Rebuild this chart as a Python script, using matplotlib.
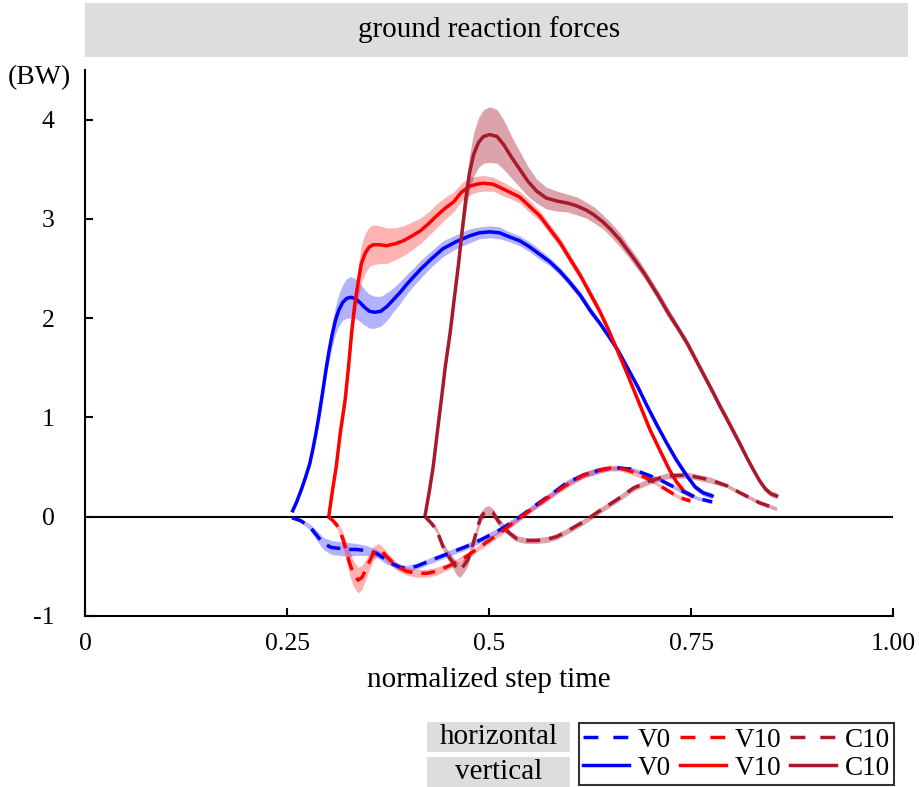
import numpy as np
import matplotlib
matplotlib.use("Agg")
import matplotlib.pyplot as plt
from matplotlib.lines import Line2D

plt.rcParams['font.family'] = ['Liberation Serif', 'DejaVu Serif']
plt.rcParams['axes.unicode_minus'] = False

# ---- data (x = normalized step time, y = BW) ----
# vertical GRF, V0
v0_vert_t = [0.257, 0.262, 0.268, 0.273, 0.278, 0.282, 0.286, 0.290, 0.294, 0.298,
             0.302, 0.306, 0.310, 0.314, 0.319, 0.324, 0.329, 0.334, 0.340, 0.346,
             0.352, 0.359, 0.366, 0.374, 0.382, 0.390, 0.398, 0.407, 0.415, 0.429,
             0.443, 0.459, 0.476, 0.488, 0.501, 0.513, 0.525, 0.538, 0.550, 0.560,
             0.575, 0.588, 0.600, 0.613, 0.625, 0.637, 0.648, 0.660, 0.672, 0.684,
             0.696, 0.708, 0.720, 0.732, 0.745, 0.755, 0.765, 0.776]
v0_vert_m = [0.06, 0.15, 0.28, 0.40, 0.53, 0.68, 0.85, 1.04, 1.25, 1.47,
             1.67, 1.84, 1.98, 2.08, 2.16, 2.20, 2.21, 2.20, 2.16, 2.11,
             2.07, 2.06, 2.07, 2.12, 2.19, 2.26, 2.34, 2.42, 2.49, 2.60,
             2.70, 2.77, 2.83, 2.86, 2.87, 2.86, 2.82, 2.78, 2.72, 2.66,
             2.57, 2.47, 2.36, 2.23, 2.08, 1.95, 1.82, 1.67, 1.49, 1.31,
             1.11, 0.92, 0.74, 0.57, 0.41, 0.30, 0.24, 0.21]
v0_vert_sd = [0.02, 0.02, 0.03, 0.03, 0.04, 0.04, 0.05, 0.06, 0.07, 0.08,
              0.10, 0.12, 0.14, 0.16, 0.18, 0.20, 0.21, 0.20, 0.19, 0.18,
              0.17, 0.16, 0.15, 0.14, 0.12, 0.11, 0.10, 0.09, 0.09, 0.08,
              0.08, 0.07, 0.07, 0.06, 0.06, 0.06, 0.05, 0.05, 0.05, 0.05,
              0.04, 0.04, 0.04, 0.04, 0.04, 0.03, 0.03, 0.03, 0.03, 0.03,
              0.03, 0.03, 0.03, 0.03, 0.03, 0.03, 0.03, 0.03]

# vertical GRF, V10
v10_vert_t = [0.302, 0.306, 0.311, 0.316, 0.322, 0.326, 0.330, 0.334, 0.338, 0.342,
              0.347, 0.352, 0.357, 0.365, 0.373, 0.384, 0.394, 0.405, 0.415, 0.425,
              0.435, 0.446, 0.456, 0.466, 0.476, 0.485, 0.493, 0.505, 0.518, 0.528,
              0.538, 0.551, 0.563, 0.575, 0.588, 0.600, 0.613, 0.625, 0.637, 0.648,
              0.658, 0.669, 0.679, 0.689, 0.699, 0.712, 0.724, 0.732, 0.742, 0.751]
v10_vert_m = [0.02, 0.25, 0.51, 0.85, 1.18, 1.50, 1.86, 2.15, 2.36, 2.55,
              2.66, 2.72, 2.74, 2.74, 2.73, 2.75, 2.78, 2.83, 2.88, 2.95,
              3.03, 3.11, 3.17, 3.27, 3.33, 3.35, 3.36, 3.35, 3.30, 3.26,
              3.22, 3.12, 3.03, 2.90, 2.76, 2.60, 2.43, 2.25, 2.07, 1.88,
              1.69, 1.48, 1.28, 1.08, 0.88, 0.66, 0.46, 0.35, 0.25, 0.21]
v10_vert_sd = [0.02, 0.03, 0.04, 0.05, 0.06, 0.08, 0.10, 0.13, 0.16, 0.19,
               0.20, 0.20, 0.20, 0.19, 0.18, 0.16, 0.15, 0.14, 0.13, 0.12,
               0.12, 0.11, 0.10, 0.09, 0.09, 0.08, 0.08, 0.07, 0.07, 0.06,
               0.06, 0.06, 0.05, 0.05, 0.05, 0.05, 0.04, 0.04, 0.04, 0.03,
               0.03, 0.03, 0.03, 0.03, 0.03, 0.03, 0.03, 0.03, 0.03, 0.03]

# vertical GRF, C10
c10_vert_t = [0.421, 0.426, 0.431, 0.436, 0.441, 0.446, 0.452, 0.457, 0.462, 0.467,
              0.472, 0.476, 0.481, 0.487, 0.493, 0.501, 0.510, 0.518, 0.528, 0.538,
              0.548, 0.559, 0.571, 0.584, 0.597, 0.609, 0.620, 0.630, 0.641, 0.651,
              0.662, 0.672, 0.682, 0.693, 0.703, 0.712, 0.722, 0.733, 0.745, 0.756,
              0.767, 0.778, 0.786, 0.794, 0.803, 0.812, 0.820, 0.828, 0.835, 0.842,
              0.849, 0.856]
c10_vert_m = [0.02, 0.25, 0.51, 0.85, 1.18, 1.52, 1.86, 2.20, 2.53, 2.90,
              3.25, 3.47, 3.65, 3.77, 3.83, 3.85, 3.83, 3.75, 3.62, 3.50,
              3.38, 3.28, 3.21, 3.18, 3.16, 3.13, 3.09, 3.04, 2.97, 2.89,
              2.79, 2.68, 2.57, 2.44, 2.31, 2.19, 2.05, 1.91, 1.75, 1.58,
              1.41, 1.24, 1.11, 0.99, 0.85, 0.71, 0.58, 0.46, 0.36, 0.28,
              0.23, 0.21]
c10_vert_sd = [0.02, 0.02, 0.03, 0.03, 0.03, 0.04, 0.04, 0.05, 0.06, 0.09,
               0.14, 0.18, 0.22, 0.25, 0.27, 0.28, 0.27, 0.25, 0.21, 0.18,
               0.15, 0.12, 0.11, 0.10, 0.09, 0.09, 0.08, 0.08, 0.07, 0.07,
               0.07, 0.06, 0.06, 0.05, 0.05, 0.05, 0.05, 0.04, 0.04, 0.04,
               0.04, 0.04, 0.04, 0.04, 0.04, 0.04, 0.03, 0.03, 0.03, 0.03,
               0.03, 0.03]

# horizontal GRF, V0
v0_hor_t = [0.256, 0.267, 0.278, 0.287, 0.295, 0.305, 0.316, 0.326, 0.336, 0.348,
            0.361, 0.372, 0.382, 0.390, 0.398, 0.410, 0.431, 0.450, 0.472, 0.493,
            0.514, 0.535, 0.555, 0.576, 0.596, 0.617, 0.637, 0.650, 0.662, 0.675,
            0.687, 0.700, 0.712, 0.724, 0.736, 0.747, 0.757, 0.766, 0.776]
v0_hor_m = [-0.01, -0.04, -0.10, -0.19, -0.27, -0.31, -0.32, -0.33, -0.33, -0.34,
            -0.37, -0.43, -0.48, -0.51, -0.52, -0.50, -0.43, -0.37, -0.30, -0.22,
            -0.13, -0.02, 0.10, 0.22, 0.34, 0.42, 0.47, 0.49, 0.49, 0.48,
            0.45, 0.41, 0.37, 0.32, 0.27, 0.23, 0.19, 0.17, 0.15]
v0_hor_sd = [0.01, 0.02, 0.03, 0.05, 0.06, 0.07, 0.07, 0.07, 0.06, 0.05,
             0.04, 0.04, 0.03, 0.03, 0.03, 0.03, 0.03, 0.03, 0.03, 0.03,
             0.03, 0.03, 0.03, 0.03, 0.03, 0.03, 0.03, 0.02, 0.02, 0.02,
             0.02, 0.02, 0.02, 0.02, 0.02, 0.02, 0.02, 0.02, 0.02]

# horizontal GRF, V10
v10_hor_t = [0.301, 0.307, 0.313, 0.319, 0.324, 0.328, 0.332, 0.338, 0.343, 0.347,
             0.352, 0.357, 0.363, 0.368, 0.373, 0.386, 0.398, 0.410, 0.423, 0.435,
             0.452, 0.472, 0.493, 0.514, 0.535, 0.555, 0.576, 0.596, 0.617, 0.637,
             0.650, 0.662, 0.675, 0.687, 0.700, 0.712, 0.722, 0.732, 0.741, 0.749]
v10_hor_m = [0.00, -0.04, -0.10, -0.22, -0.37, -0.48, -0.57, -0.64, -0.61, -0.54,
             -0.45, -0.37, -0.33, -0.35, -0.40, -0.50, -0.55, -0.57, -0.57, -0.55,
             -0.49, -0.40, -0.28, -0.16, -0.03, 0.09, 0.21, 0.32, 0.42, 0.47,
             0.49, 0.49, 0.46, 0.42, 0.37, 0.31, 0.26, 0.21, 0.18, 0.16]
v10_hor_sd = [0.01, 0.02, 0.04, 0.07, 0.10, 0.12, 0.13, 0.13, 0.12, 0.10,
              0.08, 0.07, 0.06, 0.05, 0.05, 0.04, 0.04, 0.04, 0.04, 0.04,
              0.03, 0.03, 0.03, 0.03, 0.03, 0.03, 0.03, 0.03, 0.03, 0.03,
              0.03, 0.03, 0.03, 0.03, 0.02, 0.02, 0.02, 0.02, 0.02, 0.02]

# horizontal GRF, C10
c10_hor_t = [0.421, 0.428, 0.435, 0.443, 0.450, 0.456, 0.460, 0.464, 0.469, 0.474,
             0.480, 0.485, 0.490, 0.495, 0.500, 0.505, 0.511, 0.518, 0.526, 0.534,
             0.546, 0.559, 0.571, 0.584, 0.600, 0.617, 0.637, 0.658, 0.679, 0.699,
             0.720, 0.745, 0.774, 0.795, 0.811, 0.835, 0.856]
c10_hor_m = [0.00, -0.06, -0.13, -0.30, -0.40, -0.47, -0.52, -0.54, -0.49, -0.43,
             -0.28, -0.13, 0.00, 0.05, 0.06, 0.04, -0.04, -0.11, -0.17, -0.22,
             -0.24, -0.24, -0.23, -0.20, -0.13, -0.05, 0.06, 0.17, 0.29, 0.36,
             0.41, 0.42, 0.37, 0.31, 0.24, 0.14, 0.08]
c10_hor_sd = [0.01, 0.02, 0.03, 0.04, 0.05, 0.06, 0.07, 0.07, 0.07, 0.06,
              0.05, 0.05, 0.05, 0.05, 0.05, 0.04, 0.04, 0.04, 0.03, 0.03,
              0.03, 0.03, 0.03, 0.03, 0.03, 0.03, 0.03, 0.03, 0.03, 0.03,
              0.03, 0.03, 0.03, 0.02, 0.02, 0.02, 0.02]

conditions = ['V0', 'V10', 'C10']
colors = {'V0': '#0000ff', 'V10': '#ff0000', 'C10': '#a8192e'}
band_alpha = {'V0': 0.3, 'V10': 0.3, 'C10': 0.4}

vertical = {'V0': (v0_vert_t, v0_vert_m, v0_vert_sd),
            'V10': (v10_vert_t, v10_vert_m, v10_vert_sd),
            'C10': (c10_vert_t, c10_vert_m, c10_vert_sd)}
horizontal = {'V0': (v0_hor_t, v0_hor_m, v0_hor_sd),
              'V10': (v10_hor_t, v10_hor_m, v10_hor_sd),
              'C10': (c10_hor_t, c10_hor_m, c10_hor_sd)}

xticks = [0, 0.25, 0.5, 0.75, 1.0]
xticklabels = ['0', '0.25', '0.5', '0.75', '1.00']
yticks = [-1, 0, 1, 2, 3, 4]

# ---- figure ----
fig = plt.figure(figsize=(9.2, 7.87), dpi=100)
ax = fig.add_axes([0.0924, 0.2173, 0.8783, 0.6937])

ax.axhline(0, color='black', lw=1.5, zorder=1)

for c in conditions:
    t, m, sd = (np.array(a) for a in horizontal[c])
    ax.fill_between(t, m - sd, m + sd, color=colors[c], alpha=band_alpha[c], lw=0, zorder=2)
    t, m, sd = (np.array(a) for a in vertical[c])
    ax.fill_between(t, m - sd, m + sd, color=colors[c], alpha=band_alpha[c], lw=0, zorder=2)

for c in conditions:
    t, m, sd = vertical[c]
    ax.plot(t, m, color=colors[c], lw=2.5, zorder=3, solid_joinstyle='round')
    t, m, sd = horizontal[c]
    ax.plot(t, m, color=colors[c], lw=2.5, dashes=(4, 2.6), zorder=4)

ax.set_xlim(0, 1)
ax.set_ylim(-1, 4.5)
ax.set_xticks(xticks)
ax.set_xticklabels(xticklabels)
ax.set_yticks(yticks)
ax.tick_params(direction='in', length=6, width=1.5, labelsize=18.5)
ax.tick_params(axis='x', pad=12)
ax.tick_params(axis='y', pad=22)
for s in ['top', 'right']:
    ax.spines[s].set_visible(False)
for s in ['left', 'bottom']:
    ax.spines[s].set_linewidth(1.5)
ax.set_xlabel('normalized step time', fontsize=21, labelpad=9)

fig.text(0.043, 0.902, '(BW)', fontsize=20, ha='center', va='center')

# title strip
fig.patches.append(plt.Rectangle((0.0924, 0.9276), 0.8946, 0.0686, transform=fig.transFigure,
                                 facecolor='#dddddd', edgecolor='none'))
fig.text(0.5315, 0.962, 'ground reaction forces', fontsize=21, ha='center', va='center')

# legend
handles = []
for c in conditions:
    handles.append(Line2D([], [], color=colors[c], lw=2.5, dashes=(4.3, 4.3)))
    handles.append(Line2D([], [], color=colors[c], lw=2.5))
labels = []
for c in conditions:
    labels += [c, c]
leg = fig.legend(handles, labels, ncol=3, loc='lower right', bbox_to_anchor=(0.973, 0.001),
                 fontsize=19.5, frameon=True, fancybox=False, edgecolor='black',
                 handlelength=1.7, handletextpad=0.3, columnspacing=0.35,
                 labelspacing=0.12, borderpad=0.15, borderaxespad=0.05)
leg.get_frame().set_linewidth(1.5)

for label, yc in [('horizontal', 0.0635), ('vertical', 0.0185)]:
    fig.patches.append(plt.Rectangle((0.464, yc - 0.019), 0.156, 0.038, transform=fig.transFigure,
                                     facecolor='#dddddd', edgecolor='none'))
    fig.text(0.542, yc, label, fontsize=21, ha='center', va='center')

fig.savefig('out.png', dpi=100)
